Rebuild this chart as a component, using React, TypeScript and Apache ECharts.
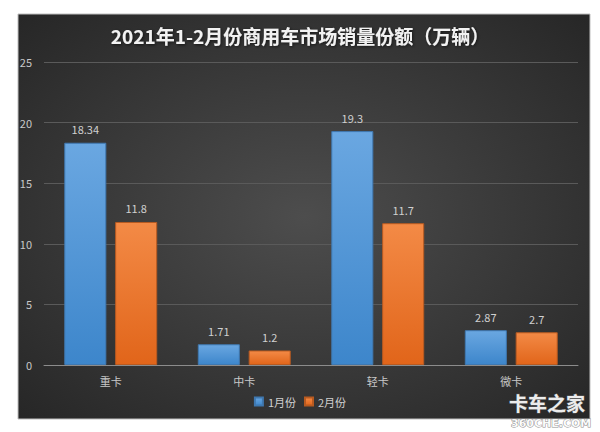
import React, { useEffect, useRef } from "react";
import * as echarts from "echarts";

const categories = ["重卡", "中卡", "轻卡", "微卡"];
const janValues = [18.34, 1.71, 19.3, 2.87];
const febValues = [11.8, 1.2, 11.7, 2.7];
const seriesNames = ["1月份", "2月份"];
const titleText = "2021年1-2月份商用车市场销量份额（万辆）";

export default function App() {
  const ref = useRef<HTMLDivElement>(null);
  useEffect(() => {
    if (!ref.current) return;
    const chart = echarts.init(ref.current, undefined, { renderer: "svg" });
    const font = "'Noto Sans CJK SC', 'Noto Sans', sans-serif";
    chart.setOption({
      animation: false,
      backgroundColor: "#ffffff",
      title: {
        text: titleText,
        left: "center",
        top: 21,
        textStyle: {
          color: "#f2f2f2",
          fontSize: 19,
          fontWeight: "bold",
          fontFamily: font,
          textShadowColor: "rgba(0,0,0,0.6)",
          textShadowBlur: 3,
          textShadowOffsetX: 1,
          textShadowOffsetY: 1,
        },
      },
      graphic: [
        {
          type: "rect",
          z: -10,
          silent: true,
          shape: { x: 18, y: 14, width: 572, height: 405 },
          style: {
            fill: {
              type: "radial",
              x: 0.5,
              y: 0.5,
              r: 0.75,
              colorStops: [
                { offset: 0, color: "#4d4d4d" },
                { offset: 1, color: "#242424" },
              ],
            },
            stroke: "#bfbfbf",
            lineWidth: 1,
          },
        },
        {
          type: "text",
          z: 100,
          x: 509,
          y: 393,
          style: {
            text: "卡车之家",
            fill: "rgba(255,255,255,0.92)",
            font: "bold 19px 'Noto Sans CJK SC', sans-serif",
            stroke: "rgba(110,110,110,0.8)",
            lineWidth: 1,
            textVerticalAlign: "top",
          },
        },
        {
          type: "text",
          z: 100,
          x: 511,
          y: 418,
          style: {
            text: "360CHE.COM",
            fill: "rgba(255,255,255,0.92)",
            font: "bold 11px 'DejaVu Sans', sans-serif",
            stroke: "rgba(110,110,110,0.8)",
            lineWidth: 1,
            textVerticalAlign: "top",
          },
        },
      ],
      legend: {
        data: seriesNames,
        bottom: 20,
        left: "center",
        itemWidth: 8,
        itemHeight: 8,
        itemGap: 8,
        icon: "rect",
        textStyle: { color: "#d0d0d0", fontSize: 11, fontFamily: font },
      },
      grid: { left: 44, right: 22, top: 62, bottom: 67 },
      xAxis: {
        type: "category",
        data: categories,
        axisTick: { show: false },
        axisLine: { lineStyle: { color: "#8c8c8c", width: 1 } },
        axisLabel: { color: "#c8c8c8", fontSize: 11, margin: 10, fontFamily: font },
      },
      yAxis: {
        type: "value",
        min: 0,
        max: 25,
        interval: 5,
        axisLine: { show: false },
        axisTick: { show: false },
        splitLine: { lineStyle: { color: "#5a5a5a", width: 1 } },
        axisLabel: { color: "#c8c8c8", fontSize: 11, margin: 12, fontFamily: font },
      },
      series: [
        {
          name: seriesNames[0],
          type: "bar",
          data: janValues,
          barWidth: "31.5%",
          barGap: "21%",
          itemStyle: {
            color: {
              type: "linear",
              x: 0, y: 0, x2: 0, y2: 1,
              colorStops: [
                { offset: 0, color: "#6aa7e1" },
                { offset: 1, color: "#3d86cb" },
              ],
            },
            borderColor: "#3f78b0",
            borderWidth: 1,
          },
          label: {
            show: true,
            position: "top",
            distance: 8,
            color: "#d0d0d0",
            fontSize: 11,
            fontFamily: font,
          },
        },
        {
          name: seriesNames[1],
          type: "bar",
          data: febValues,
          barWidth: "31.5%",
          itemStyle: {
            color: {
              type: "linear",
              x: 0, y: 0, x2: 0, y2: 1,
              colorStops: [
                { offset: 0, color: "#f38a46" },
                { offset: 1, color: "#e1651a" },
              ],
            },
            borderColor: "#b85a20",
            borderWidth: 1,
          },
          label: {
            show: true,
            position: "top",
            distance: 8,
            color: "#d0d0d0",
            fontSize: 11,
            fontFamily: font,
          },
        },
      ],
    });
    return () => chart.dispose();
  }, []);
  return (
    <div
      ref={ref}
      style={{ position: "absolute", left: 0, top: 0, width: 600, height: 432 }}
    />
  );
}
